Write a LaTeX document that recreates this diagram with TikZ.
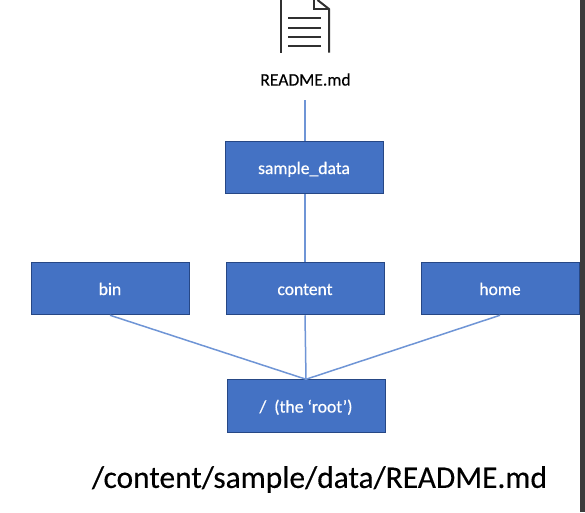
\documentclass[tikz,border=0pt]{standalone}
\usepackage{fontspec}
\setmainfont{Carlito}
\newfontfamily\boxfont[FakeBold=0.6]{Carlito}
\newfontfamily\capfont[FakeBold=0.25]{Carlito}
\definecolor{boxfill}{HTML}{4472C4}
\definecolor{boxedge}{HTML}{264785}
\definecolor{linkc}{HTML}{6F95D6}
\definecolor{iconc}{HTML}{303030}
\definecolor{stripc}{HTML}{3C3C3C}
\tikzset{
  dirbox/.style={draw=boxedge,line width=1pt,fill=boxfill,text=white,font=\boxfont\fontsize{17.6}{20}\selectfont,text height=15pt,text depth=2pt,minimum width=158pt,minimum height=52.5pt,inner sep=0pt,anchor=center},
  link/.style={draw=linkc,line width=1.5pt},
  iconline/.style={draw=iconc,line width=2pt}
}
\begin{document}
\begin{tikzpicture}[x=1pt,y=-1pt]
\useasboundingbox (0,0) rectangle (585,512);
\fill[white] (0,0) rectangle (585,512);
\fill[stripc] (580,0) rectangle (585,512);
% document icon
\draw[iconline] (280.7,0) -- (280.7,52.7);
\draw[iconline] (329,52.7) -- (329,9) -- (317.5,0);
\draw[iconline] (313.7,0) -- (313.7,9) -- (329,9);
\draw[iconline] (288,18) -- (321,18);
\draw[iconline] (288,27.5) -- (321,27.5);
\draw[iconline] (288,37) -- (321,37);
\draw[iconline] (288,46) -- (321,46);
\node[text=black,font=\capfont\fontsize{17.6}{20}\selectfont,inner sep=0pt] (readme) at (305.5,79.5) {README.md};
\coordinate (readmeEnd) at (305,100);
\node[dirbox] (sample) at (304,167.5) {sample\_data};
\node[dirbox] (bin) at (110,288.5) {bin};
\node[dirbox] (content) at (305,288.5) {content};
\node[dirbox] (home) at (500,288.5) {home};
\node[dirbox] (root) at (306,406) {/\ \ (the ‘root’)};
\draw[link] (readmeEnd) -- (sample.north -| readmeEnd);
\draw[link] (sample.south -| readmeEnd) -- (content.north);
\draw[link] (bin.south) -- (root.north);
\draw[link] (content.south) -- (root.north);
\draw[link] (home.south) -- (root.north);
\node[text=black,font=\capfont\fontsize{31.4}{36}\selectfont,inner sep=0pt] (path) at (319.5,479.5) {/content/sample/data/README.md};
\end{tikzpicture}
\end{document}
